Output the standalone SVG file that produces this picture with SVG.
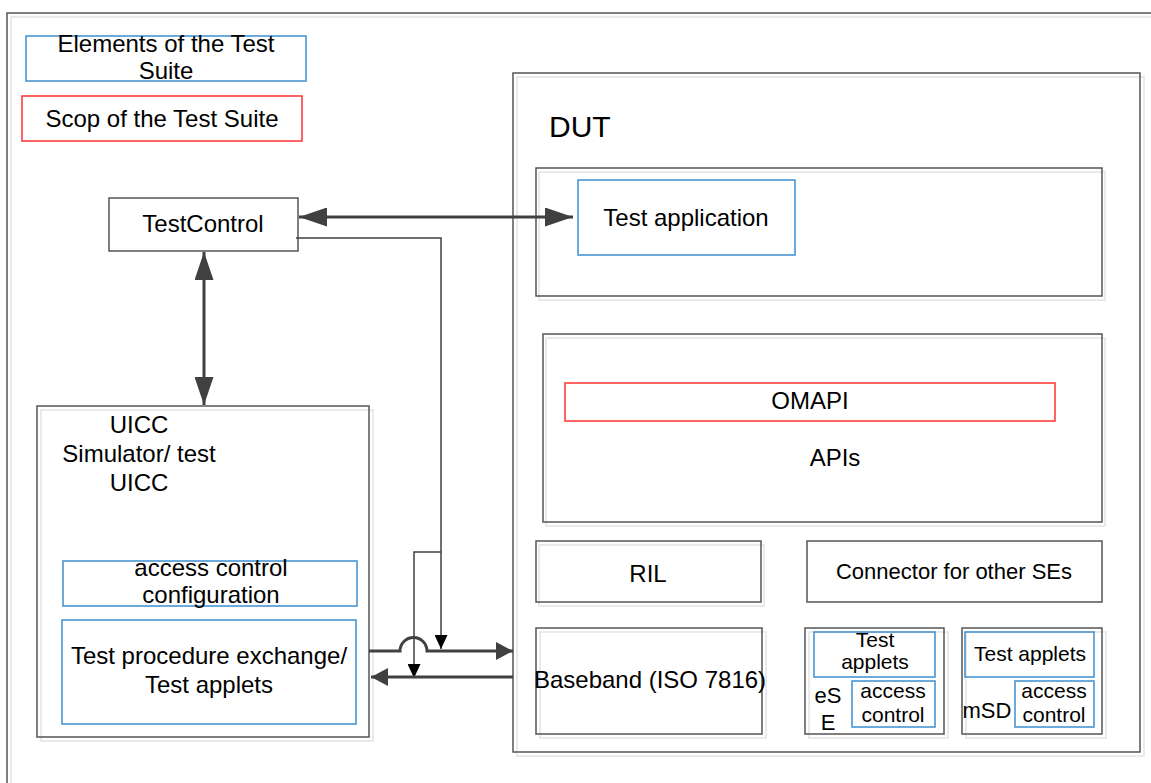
<svg xmlns="http://www.w3.org/2000/svg" width="1151" height="783" viewBox="0 0 1151 783">
<style>
text{font-family:"Liberation Sans",Arial,sans-serif;fill:#000;text-anchor:middle}
.f24{font-size:24px}.f22{font-size:22px}.f21{font-size:21px}.f30{font-size:30px}
.g{fill:none;stroke:#555;stroke-width:1.5}
.sh{fill:none;stroke:#e4e4e4;stroke-width:1.5}
.b{fill:none;stroke:#3d8fd1;stroke-width:1.5}
.r{fill:none;stroke:#ff3030;stroke-width:1.5}
.thick{fill:none;stroke:#404040;stroke-width:3}
.thin{fill:none;stroke:#404040;stroke-width:1.5}
</style>
<defs>
<marker id="big" viewBox="0 0 28 19" refX="28" refY="9.5" markerWidth="28" markerHeight="19" markerUnits="userSpaceOnUse" orient="auto-start-reverse"><path d="M0,0 L28,9.5 L0,19 Z" fill="#404040"/></marker>
<marker id="mid" viewBox="0 0 17 18" refX="17" refY="9" markerWidth="17" markerHeight="18" markerUnits="userSpaceOnUse" orient="auto"><path d="M0,0 L17,9 L0,18 Z" fill="#404040"/></marker>
<marker id="small" viewBox="0 0 14 13" refX="14" refY="6.5" markerWidth="14" markerHeight="13" markerUnits="userSpaceOnUse" orient="auto"><path d="M0,0 L14,6.5 L0,13 Z" fill="#000"/></marker>
</defs>
<rect width="1151" height="783" fill="#fff"/>
<g id="frame">
<rect x="11" y="17" width="1160" height="800" class="sh"/>
<rect x="7" y="13" width="1160" height="800" class="g"/>
</g>
<g id="legend-elements">
<rect x="26" y="36" width="280" height="45" class="b"/>
<text class="f24" x="166" y="52">Elements of the Test</text>
<text class="f24" x="166" y="79">Suite</text>
</g>
<g id="legend-scope">
<rect x="22" y="96" width="280" height="45" class="r"/>
<text class="f24" x="162" y="127">Scop of the Test Suite</text>
</g>
<g id="testcontrol">
<rect x="109" y="198" width="189" height="53" class="g"/>
<text class="f24" x="203" y="232">TestControl</text>
</g>
<g id="uicc">
<rect x="41" y="410" width="332" height="331" class="sh"/>
<rect x="37" y="406" width="332" height="331" class="g"/>
<text class="f24" x="139" y="433">UICC</text>
<text class="f24" x="139" y="462">Simulator/ test</text>
<text class="f24" x="139" y="491">UICC</text>
</g>
<g id="access-config">
<rect x="63" y="561" width="294" height="45" class="b"/>
<text class="f24" x="211" y="576">access control</text>
<text class="f24" x="211" y="603">configuration</text>
</g>
<g id="test-procedure">
<rect x="62" y="620" width="294" height="104" class="b"/>
<text class="f24" x="209" y="664">Test procedure exchange/</text>
<text class="f24" x="209" y="693">Test applets</text>
</g>
<g id="dut">
<rect x="517" y="77" width="627" height="679" class="sh"/>
<rect x="513" y="73" width="627" height="679" class="g"/>
<text class="f30" x="549" y="137" style="text-anchor:start">DUT</text>
</g>
<g id="app-layer">
<rect x="539" y="172" width="566" height="128" class="sh"/>
<rect x="536" y="168" width="566" height="128" class="g"/>
</g>
<g id="test-application">
<rect x="578" y="180" width="217" height="75" class="b"/>
<text class="f24" x="686" y="226">Test application</text>
</g>
<g id="apis">
<rect x="546" y="338" width="559" height="188" class="sh"/>
<rect x="543" y="334" width="559" height="188" class="g"/>
<text class="f24" x="835" y="466">APIs</text>
</g>
<g id="omapi">
<rect x="565" y="383" width="490" height="38" class="r"/>
<text class="f24" x="810" y="409">OMAPI</text>
</g>
<g id="ril">
<rect x="539" y="545" width="225" height="61" class="sh"/>
<rect x="536" y="541" width="225" height="61" class="g"/>
<text class="f24" x="648" y="582">RIL</text>
</g>
<g id="connector-ses">
<rect x="807" y="541" width="295" height="61" class="g"/>
<text class="f22" x="954" y="579">Connector for other SEs</text>
</g>
<g id="baseband">
<rect x="540" y="632" width="226" height="106" class="sh"/>
<rect x="536" y="628" width="226" height="106" class="g"/>
<text class="f24" x="650" y="688">Baseband (ISO 7816)</text>
</g>
<g id="ese">
<rect x="809" y="632" width="139" height="106" class="sh"/>
<rect x="805" y="628" width="139" height="106" class="g"/>
<rect x="814" y="632" width="121" height="45" class="b"/>
<text class="f21" x="875" y="647">Test</text>
<text class="f21" x="875" y="669">applets</text>
<rect x="852" y="681" width="83" height="46" class="b"/>
<text class="f21" x="893" y="698">access</text>
<text class="f21" x="893" y="722">control</text>
<text class="f22" x="828" y="703">eS</text>
<text class="f22" x="828" y="730">E</text>
</g>
<g id="msd">
<rect x="966" y="632" width="140" height="106" class="sh"/>
<rect x="962" y="628" width="140" height="106" class="g"/>
<rect x="965" y="632" width="129" height="45" class="b"/>
<text class="f21" x="1030" y="661">Test applets</text>
<rect x="1015" y="681" width="79" height="46" class="b"/>
<text class="f21" x="1054" y="698">access</text>
<text class="f21" x="1054" y="722">control</text>
<text class="f22" x="987" y="718">mSD</text>
</g>
<g id="connectors">
<line x1="299" y1="217" x2="573" y2="217" class="thick" marker-start="url(#big)" marker-end="url(#big)"/>
<line x1="204" y1="252" x2="204" y2="405" class="thick" marker-start="url(#big)" marker-end="url(#big)"/>
<polyline points="296,238 441,238 441,649" class="thin" marker-end="url(#small)"/>
<polyline points="441,552 414,552 414,678" class="thin" marker-end="url(#small)"/>
<path d="M369,651 H400 A13.5,13.5 0 0 1 427,651 H513" class="thick" marker-end="url(#mid)"/>
<line x1="513" y1="677" x2="371" y2="677" class="thick" marker-end="url(#mid)"/>
</g>
</svg>
